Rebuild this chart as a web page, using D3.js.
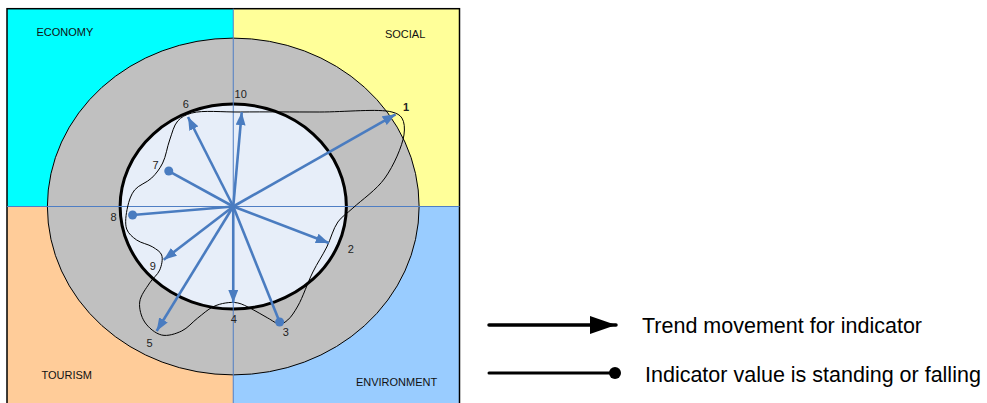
<!DOCTYPE html>
<html>
<head>
<meta charset="utf-8">
<script src="https://cdn.jsdelivr.net/npm/d3@7"></script>
<style>
  body { margin: 0; background: #fff; }
  svg { display: block; font-family: Arial, 'Liberation Sans', sans-serif; }
</style>
</head>
<body>
<svg id="chart"></svg>
<script>
var width = 987,
  height = 403;

// coordinates are in units of the inner circle radius (circle edge = 1)
var indicatorIds = ['1', '2', '3', '4', '5', '6', '7', '8', '9', '10'];
var indicatorX = [1.435, 0.845, 0.41, 0.0, -0.677, -0.40, -0.57, -0.89, -0.615, 0.075];
var indicatorY = [0.90, -0.356, -1.127, -0.94, -1.215, 0.873, 0.346, -0.083, -0.52, 0.92];
// trend = arrow, standing = dot
var indicatorKind = ['trend', 'trend', 'standing', 'trend', 'trend', 'trend', 'standing', 'standing', 'trend', 'trend'];
var labelX = [1.527, 1.040, 0.465, 0.004, -0.739, -0.420, -0.686, -1.058, -0.712, 0.066];
var labelY = [0.956, -0.429, -1.239, -1.112, -1.346, 0.985, 0.390, -0.117, -0.595, 1.083];

// the black trace joining the indicators
var traceX = [0.066, 0.765, 1.403, 1.491, 1.509, 1.341, 1.058, 0.925, 0.827, 0.704, 0.571, 0.482, 0.412, 0.305, 0.164, 0.040, -0.066, -0.181, -0.314, -0.456, -0.633, -0.783, -0.827, -0.739, -0.650, -0.633, -0.712, -0.854, -0.942, -0.934, -0.872, -0.721, -0.624, -0.562, -0.491, -0.367];
var traceY = [0.922, 0.922, 0.922, 0.863, 0.698, 0.278, -0.015, -0.151, -0.395, -0.639, -0.971, -1.107, -1.146, -1.088, -1.0, -0.941, -0.941, -0.980, -1.088, -1.215, -1.254, -1.127, -0.932, -0.746, -0.620, -0.473, -0.395, -0.327, -0.220, -0.005, 0.161, 0.278, 0.424, 0.649, 0.834, 0.912];

// quadrants
var quadrantNames = ['ECONOMY', 'SOCIAL', 'TOURISM', 'ENVIRONMENT'];
var quadrantColors = ['#00ffff', '#ffff99', '#ffcc99', '#99ccff'];
var quadrantLabelX = [-1.739, 1.341, -1.695, 1.084];
var quadrantLabelY = [1.668, 1.644, -1.683, -1.751];

var outerRing = 1.643;
var legendItems = ['Trend movement for indicator', 'Indicator value is standing or falling'];

const arrow_color = '#4a7cc0';

var x = d3.scaleLinear().domain([-2, 2]).range([7, 459.5]);
var y = d3.scaleLinear().domain([-1.93, 1.93]).range([404.3, 8.7]);

var svg = d3.select('#chart')
  .attr('width', width)
  .attr('height', height);

var defs = svg.append('defs');
defs.append('marker')
  .attr('id', 'blueHead')
  .attr('markerUnits', 'userSpaceOnUse')
  .attr('markerWidth', 13)
  .attr('markerHeight', 10)
  .attr('refX', 13)
  .attr('refY', 5)
  .attr('orient', 'auto')
  .append('path')
  .attr('d', 'M0,0 L13,5 L0,10 Z')
  .attr('fill', arrow_color);

defs.append('marker')
  .attr('id', 'blackHead')
  .attr('markerUnits', 'userSpaceOnUse')
  .attr('markerWidth', 26)
  .attr('markerHeight', 18)
  .attr('refX', 26)
  .attr('refY', 9)
  .attr('orient', 'auto')
  .append('path')
  .attr('d', 'M0,0 L26,9 L0,18 Z')
  .attr('fill', '#000');

// quadrant blocks
var quads = quadrantNames.map(function(name, i) {
  return {
    name: name,
    color: quadrantColors[i],
    x0: i % 2 === 0 ? -2 : 0,
    x1: i % 2 === 0 ? 0 : 2,
    y0: i < 2 ? 0 : -1.93,
    y1: i < 2 ? 1.93 : 0,
    lx: quadrantLabelX[i],
    ly: quadrantLabelY[i]
  };
});

svg.append('g')
  .selectAll('rect')
  .data(quads)
  .join('rect')
  .attr('x', d => x(d.x0))
  .attr('y', d => y(d.y1))
  .attr('width', d => x(d.x1) - x(d.x0))
  .attr('height', d => y(d.y0) - y(d.y1))
  .attr('fill', d => d.color);

svg.append('rect')
  .attr('x', x(-2))
  .attr('y', y(1.93))
  .attr('width', x(2) - x(-2))
  .attr('height', y(-1.93) - y(1.93) + 5)
  .attr('fill', 'none')
  .attr('stroke', '#000')
  .attr('stroke-width', 1.5);

svg.append('g')
  .selectAll('text')
  .data(quads)
  .join('text')
  .attr('x', d => x(d.lx))
  .attr('y', d => y(d.ly))
  .attr('font-size', 11)
  .attr('fill', '#111')
  .text(d => d.name);

// grey ring and inner circle
svg.append('ellipse')
  .attr('cx', x(0))
  .attr('cy', y(0))
  .attr('rx', x(outerRing) - x(0))
  .attr('ry', y(0) - y(outerRing))
  .attr('fill', '#c0c0c0')
  .attr('stroke', '#000')
  .attr('stroke-width', 1);

svg.append('ellipse')
  .attr('cx', x(0))
  .attr('cy', y(0))
  .attr('rx', x(1) - x(0))
  .attr('ry', y(0) - y(1))
  .attr('fill', '#e7eef9')
  .attr('stroke', '#000')
  .attr('stroke-width', 3);

// axis lines
svg.append('line')
  .attr('x1', x(0)).attr('x2', x(0))
  .attr('y1', y(1.93)).attr('y2', height)
  .attr('stroke', '#4f7ec4')
  .attr('stroke-width', 1);
svg.append('line')
  .attr('x1', x(-2)).attr('x2', x(2))
  .attr('y1', y(0)).attr('y2', y(0))
  .attr('stroke', '#4f7ec4')
  .attr('stroke-width', 1);

// trace
var tracePts = traceX.map((v, i) => [x(v), y(traceY[i])]);
svg.append('path')
  .attr('d', d3.line().curve(d3.curveCatmullRomClosed.alpha(0.5))(tracePts))
  .attr('fill', 'none')
  .attr('stroke', '#000')
  .attr('stroke-width', 1);

// indicators
var indicators = indicatorIds.map(function(id, i) {
  return { id: id, x: indicatorX[i], y: indicatorY[i], kind: indicatorKind[i], lx: labelX[i], ly: labelY[i] };
});

var g = svg.append('g');
g.selectAll('line')
  .data(indicators)
  .join('line')
  .attr('x1', x(0))
  .attr('y1', y(0))
  .attr('x2', d => x(d.x))
  .attr('y2', d => y(d.y))
  .attr('stroke', arrow_color)
  .attr('stroke-width', 2.6)
  .attr('marker-end', d => d.kind === 'trend' ? 'url(#blueHead)' : null);

g.selectAll('circle')
  .data(indicators.filter(d => d.kind === 'standing'))
  .join('circle')
  .attr('cx', d => x(d.x))
  .attr('cy', d => y(d.y))
  .attr('r', 4.5)
  .attr('fill', arrow_color);

svg.append('g')
  .selectAll('text')
  .data(indicators)
  .join('text')
  .attr('x', d => x(d.lx))
  .attr('y', d => y(d.ly))
  .attr('text-anchor', 'middle')
  .attr('dominant-baseline', 'middle')
  .attr('font-size', 11)
  .attr('font-weight', d => d.id === '1' ? 'bold' : 'normal')
  .attr('fill', '#222')
  .text(d => d.id);

// legend
var legend = svg.append('g');
legend.append('line')
  .attr('x1', 489).attr('x2', 616)
  .attr('y1', 325).attr('y2', 325)
  .attr('stroke', '#000')
  .attr('stroke-width', 3.5)
  .attr('stroke-linecap', 'round')
  .attr('marker-end', 'url(#blackHead)');
legend.append('line')
  .attr('x1', 489).attr('x2', 615)
  .attr('y1', 373).attr('y2', 373)
  .attr('stroke', '#000')
  .attr('stroke-width', 3)
  .attr('stroke-linecap', 'round');
legend.append('circle')
  .attr('cx', 615).attr('cy', 373)
  .attr('r', 6)
  .attr('fill', '#000');

legend.selectAll('text')
  .data(legendItems)
  .join('text')
  .attr('x', (d, i) => i === 0 ? 642 : 645)
  .attr('y', (d, i) => i === 0 ? 333 : 382)
  .attr('font-size', 21.5)
  .attr('fill', '#000')
  .text(d => d);
</script>
</body>
</html>
